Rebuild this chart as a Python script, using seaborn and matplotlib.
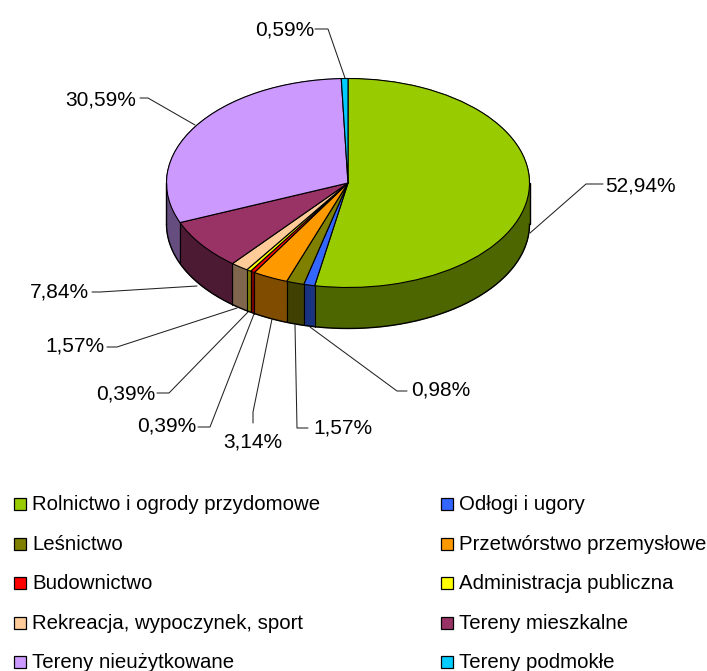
import numpy as np
import matplotlib
matplotlib.use("Agg")
import matplotlib.pyplot as plt
from matplotlib.colors import to_rgb
from matplotlib.patches import Rectangle
import seaborn as sns

# dane z wykresu
kategorie = ["Rolnictwo i ogrody przydomowe", "Odłogi i ugory", "Leśnictwo",
             "Przetwórstwo przemysłowe", "Budownictwo", "Administracja publiczna",
             "Rekreacja, wypoczynek, sport", "Tereny mieszkalne",
             "Tereny nieużytkowane", "Tereny podmokłe"]
udzialy = [52.94, 0.98, 1.57, 3.14, 0.39, 0.39, 1.57, 7.84, 30.59, 0.59]
kolory = ["#99CC00", "#3366FF", "#808000", "#FF9900", "#FF0000",
          "#FFFF00", "#FFCC99", "#993366", "#CC99FF", "#00CCFF"]

W, H = 707, 671
CX, CY, RX, RY, GLEB = 348, 183, 181.5, 104.5, 41

# pozycje etykiet: x lewej krawedzi, y srodka, potem punkty linii odniesienia (piksele)
etykiety = [
    (605, 184, [(603, 184), (586, 184), (530, 233)]),
    (411, 389, [(407, 391), (397, 391), (310, 327)]),
    (313, 427, [(308, 428), (297, 428), (295, 325)]),
    (223, 440, [(253, 423), (253, 412), (272, 319)]),
    (137, 425, [(198, 427), (210, 427), (254, 314)]),
    (96, 393, [(157, 393), (169, 393), (248, 312)]),
    (45, 345, [(107, 347), (117, 347), (237, 308)]),
    (30, 291, [(92, 292), (100, 292), (197, 286)]),
    (65, 99, [(140, 98), (148, 98), (195, 125)]),
    (255, 28, [(315, 29), (328, 29), (345, 78)]),
]
legenda_y = [504, 544, 583, 623, 662]
legenda_x = [(13.5, 32), (441, 459)]
FONT = 15
FONT_LEG = 14.65

sns.set_theme(style="white")
plt.rcParams["font.family"] = ["Liberation Sans", "DejaVu Sans"]


def fx(x):
    return x / W


def fy(y):
    return 1 - y / H


fig = plt.figure(figsize=(W / 100, H / 100), dpi=100)
ax = fig.add_axes([0, 0, 1, 1])
paleta = sns.color_palette(kolory)
ciemne = [tuple(c * 0.5 for c in to_rgb(k)) for k in paleta]
d = GLEB / RY

# bok tortu: stos ciemnych kolek
for off in np.arange(d, 0, -0.008):
    ax.pie(udzialy, colors=ciemne, startangle=90, counterclock=False, center=(0, -off),
           wedgeprops={"linewidth": 0.6, "edgecolor": None})
    for p in ax.patches[-len(udzialy):]:
        p.set_edgecolor(p.get_facecolor())

# dolna krawedz i pionowe linie miedzy wycinkami
t = np.linspace(np.pi, 2 * np.pi, 200)
ax.plot(np.cos(t), np.sin(t) - d, color="black", lw=1.0)
granice = np.cumsum([0] + udzialy[:-1]) / 100 * 2 * np.pi
for a in granice:
    if np.cos(a) < 0:
        ax.plot([np.sin(a)] * 2, [np.cos(a), np.cos(a) - d], color="black", lw=0.8)
for s in (-1, 1):
    ax.plot([s, s], [0, -d], color="black", lw=1.0)

# wierzch
wedges, _ = ax.pie(udzialy, colors=paleta, startangle=90, counterclock=False,
                   wedgeprops={"linewidth": 0.8, "edgecolor": "black"})

ax.set_aspect("auto")
ax.set_xlim(-CX / RX, (W - CX) / RX)
ax.set_ylim((CY - H) / RY, CY / RY)
ax.axis("off")

# etykiety procentowe
for u, (x, y, linia) in zip(udzialy, etykiety):
    fig.text(fx(x), fy(y + 7), f"{u:.2f}%".replace(".", ","), fontsize=FONT, color="black",
             ha="left", va="baseline")
    xs, ys = zip(*linia)
    fig.add_artist(plt.Line2D([fx(v) for v in xs], [fy(v) for v in ys], color="#222222", lw=0.75))

# legenda: dwie kolumny, kolejnosc wierszami
for i, (nazwa, kolor) in enumerate(zip(kategorie, paleta)):
    kx, tx = legenda_x[i % 2]
    y = legenda_y[i // 2]
    fig.add_artist(Rectangle((fx(kx), fy(y + 6)), 12 / W, 12 / H, transform=fig.transFigure,
                             facecolor=kolor, edgecolor="black", lw=0.9))
    fig.text(fx(tx), fy(y + 6), nazwa, fontsize=FONT_LEG, color="black", ha="left", va="baseline")

fig.savefig("out.png", dpi=100)
